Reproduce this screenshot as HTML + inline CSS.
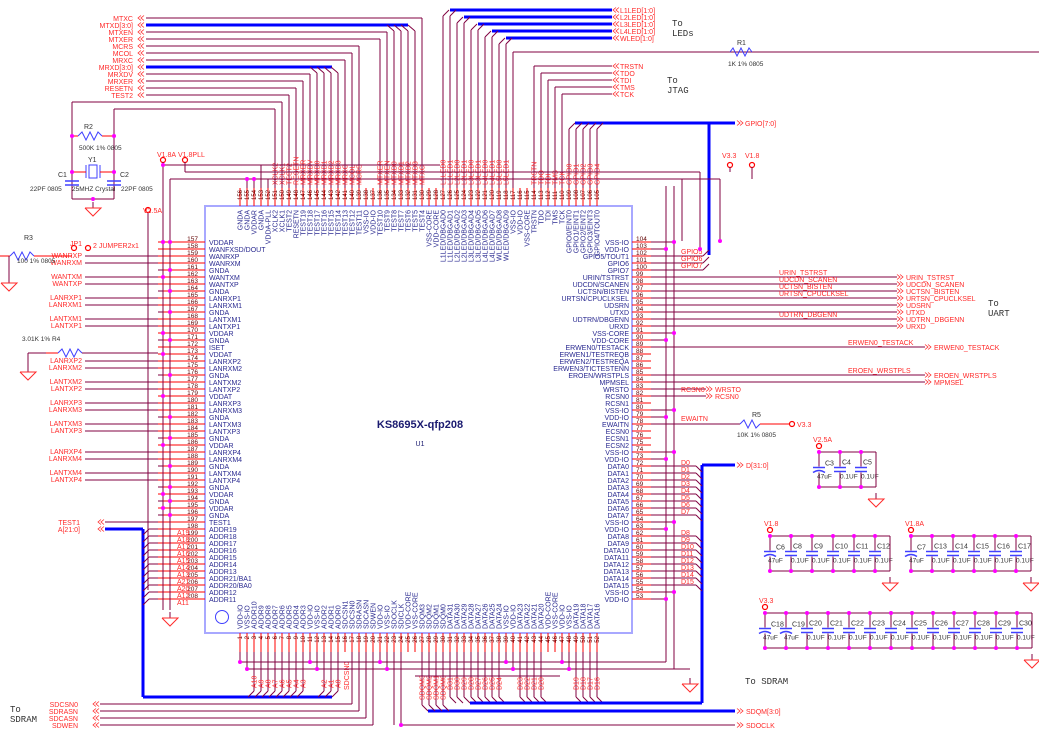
<!DOCTYPE html>
<html><head><meta charset="utf-8"><style>
html,body{margin:0;padding:0;background:#fff;width:1039px;height:741px;overflow:hidden}
svg{display:block;font-family:"Liberation Sans",sans-serif}
</style></head><body>
<svg id="s" width="1039" height="741" viewBox="0 0 1039 741" xmlns="http://www.w3.org/2000/svg"></svg>
<script>
(function(){
const S=[];const W='#800040',R='#ff0000',B='#0000ff',NL='#ff2a2a',PL='#2a2a90',PN='#600000';
function L(x1,y1,x2,y2,c=W,w=1){S.push(`<line x1="${x1}" y1="${y1}" x2="${x2}" y2="${y2}" stroke="${c}" stroke-width="${w}"/>`)}
function P(pts,c=W,w=1){S.push(`<polyline points="${pts}" fill="none" stroke="${c}" stroke-width="${w}"/>`)}
function T(x,y,t,c=PL,a='start',sz=7,rot=0,extra=''){S.push(`<text x="${x}" y="${y}" fill="${c}" font-size="${sz}" text-anchor="${a}"${rot?` transform="rotate(${rot} ${x} ${y})"`:''} ${extra}>${t}</text>`)}
function D(x,y){S.push(`<circle cx="${x}" cy="${y}" r="2" fill="#ff00ff"/>`)}
function O(x,y){S.push(`<circle cx="${x}" cy="${y}" r="2.5" fill="#fff" stroke="${R}" stroke-width="1.2"/>`)}
function chL(x,y){P(`${x+4},${y-2.5} ${x+1},${y} ${x+4},${y+2.5}`,NL,0.8);P(`${x+7},${y-2.5} ${x+4},${y} ${x+7},${y+2.5}`,NL,0.8)}
function chR(x,y){P(`${x},${y-2.5} ${x+3},${y} ${x},${y+2.5}`,NL,0.8);P(`${x+3},${y-2.5} ${x+6},${y} ${x+3},${y+2.5}`,NL,0.8)}
function gnd(x,y){L(x,y-6,x,y,W);P(`${x-8},${y} ${x+8},${y} ${x},${y+8} ${x-8},${y}`,NL)}
S.push(`<rect x="205" y="206" width="427" height="427" fill="none" stroke="#a8a8ff" stroke-width="2"/>`);
S.push(`<circle cx="222" cy="617" r="6.5" fill="none" stroke="#4040ff" stroke-width="1"/>`);
T(420,428,'KS8695X-qfp208','#1a1a70','middle',11,0,'font-weight="bold"');T(420,446,'U1','#1a1a70','middle',7);
const leftN=['VDDAR','WANFXSD/DOUT','WANRXP','WANRXM','GNDA','WANTXM','WANTXP','GNDA','LANRXP1','LANRXM1','GNDA','LANTXM1','LANTXP1','VDDAR','GNDA','ISET','VDDAT','LANRXP2','LANRXM2','GNDA','LANTXM2','LANTXP2','VDDAT','LANRXP3','LANRXM3','GNDA','LANTXM3','LANTXP3','GNDA','VDDAR','LANRXP4','LANRXM4','GNDA','LANTXM4','LANTXP4','GNDA','VDDAR','GNDA','VDDAR','GNDA','TEST1','ADDR19','ADDR18','ADDR17','ADDR16','ADDR15','ADDR14','ADDR13','ADDR21/BA1','ADDR20/BA0','ADDR12','ADDR11'];
const rightN=['VSS-IO','VDD-IO','GPIO5/TOUT1','GPIO6','GPIO7','URIN/TSTRST','UDCDN/SCANEN','UCTSN/BISTEN','URTSN/CPUCLKSEL','UDSRN','UTXD','UDTRN/DBGENN','URXD','VSS-CORE','VDD-CORE','ERWEN0/TESTACK','ERWEN1/TESTREQB','ERWEN2/TESTREQA','ERWEN3/TICTESTENN','EROEN/WRSTPLS','MPMSEL','WRSTO','RCSN0','RCSN1','VSS-IO','VDD-IO','EWAITN','ECSN0','ECSN1','ECSN2','VSS-IO','VDD-IO','DATA0','DATA1','DATA2','DATA3','DATA4','DATA5','DATA6','DATA7','VSS-IO','VDD-IO','DATA8','DATA9','DATA10','DATA11','DATA12','DATA13','DATA14','DATA15','VSS-IO','VDD-IO'];
const topN=['GNDA','GNDA','VDDAR','GNDA','VDDA-PLL','XCLK2','XCLK1','TEST2','RESETN','TEST19','TEST18','TEST17','TEST16','TEST15','TEST14','TEST13','TEST12','TEST11','VSS-IO','VDD-IO','TEST10','TEST9','TEST8','TEST7','TEST6','TEST5','TEST4','VSS-CORE','VDD-CORE','L1LED/DBGAD0','L1LED/DBGAD1','L2LED/DBGAD2','L2LED/DBGAD3','L3LED/DBGAD4','L3LED/DBGAD5','L4LED/DBGAD6','L4LED/DBGAD7','WLED/DBGAD8','WLED/DBGAD9','VSS-IO','VDD-IO','VSS-CORE','TRSTN','TDO','TDI','TMS','TCK','GPIO0/EINT0','GPIO1/EINT1','GPIO2/EINT2','GPIO3/EINT3','GPIO4/TOUT0'];
const botN=['VDD-IO','VSS-IO','ADDR10','ADDR9','ADDR8','ADDR7','ADDR6','ADDR5','ADDR4','ADDR3','VDD-IO','VSS-IO','ADDR2','ADDR1','ADDR0','SDCSN1','SDCSN0','SDRASN','SDCASN','SDWEN','VDD-IO','VSS-IO','SDOCLK','SDICLK','VDD-CORE','VSS-CORE','SDQM3','SDQM2','SDQM1','SDQM0','DATA31','DATA30','DATA29','DATA28','DATA27','DATA26','DATA25','DATA24','VSS-IO','VDD-IO','DATA23','DATA22','DATA21','DATA20','VDD-CORE','VSS-CORE','VDD-IO','VSS-IO','DATA19','DATA18','DATA17','DATA16'];
const ly=i=>242+7*i, tx=i=>240+7*i;
leftN.forEach((n,i)=>{const y=ly(i);L(158,y,205,y,R);T(198,y-1,157+i,PN,'end',6.5);T(209,y+3,n)});
rightN.forEach((n,i)=>{const y=ly(i);L(632,y,651,y,R);T(636,y-1,104-i,PN,'start',6.5);T(629,y+3,n,PL,'end')});
topN.forEach((n,i)=>{const x=tx(i);L(x,188,x,206,R);T(x+2,200,156-i,PN,'start',6,-90);T(x+2.5,210,n,PL,'end',7,-90)});
botN.forEach((n,i)=>{const x=tx(i);L(x,633,x,652,R);T(x+2,636,i+1,PN,'end',6,-90);T(x+2.5,629,n,PL,'start',7,-90)});
const ln=[['MTXC',18,422],['MTXD[3:0]',25,0],['MTXEN',32,387],['MTXER',39,380],['MCRS',46,359],['MCOL',53,352],['MRXC',60,345],['MRXD[3:0]',67,0],['MRXDV',74,310],['MRXER',81,303],['RESETN',88,296],['TEST2',95,289]];
ln.forEach(([n,y,x])=>{T(133,y+3,n,NL,'end');chL(137,y);if(x){L(146,y,x,y);L(x,y,x,188)}});
L(146,25,408,25,B,3);[394,401,408,415].forEach((x)=>{L(x-7,25,x,31);L(x,31,x,188)});
L(146,67,332,67,B,3);[317,324,331,338].forEach((x)=>{L(x-7,67,x,73);L(x,73,x,188)});
[['MTXC',422],['MTXD3',415],['MTXD2',408],['MTXD1',401],['MTXD0',394],['MTXEN',387],['MTXER',380],['MCRS',359],['MCOL',352],['MRXC',345],['MRXD3',338],['MRXD2',331],['MRXD1',324],['MRXD0',317],['MRXDV',310],['MRXER',303],['RESETN',296],['TEST2',289],['XCLK1',282],['XCLK2',275]].forEach(([n,x])=>T(x+2.5,185,n,NL,'start',7,-90));
const led=[['L1LED[1:0]',10,450],['L2LED[1:0]',17,464],['L3LED[1:0]',24,478],['L4LED[1:0]',31,492],['WLED[1:0]',38,506]];
led.forEach(([n,y,x0],k)=>{L(x0,y,612,y,B,3);chL(612,y);T(620,y+3,n,NL);const xa=tx(29+2*k),xb=tx(30+2*k);[xa,xb].forEach((x)=>{L(x,y+6,x+6,y);L(x,y+6,x,188);});T(xa+2.5,185,'L'+(k+1)+'LED0',NL,'start',7,-90);T(xb+2.5,185,'L'+(k+1)+'LED1',NL,'start',7,-90)});
T(672,26,'To','#333','start',9,0,'font-family="Liberation Mono"');T(672,36,'LEDs','#333','start',9,0,'font-family="Liberation Mono"');
L(513,52,1039,52);L(513,52,513,188);
P('730,52 733,48 737,56 741,48 745,56 749,48 752,52','#4040ff');T(737,45,'R1','#333','start',7);T(728,66,'1K 1% 0805','#333','start',6.5);
[['TRSTN',66],['TDO',73],['TDI',80],['TMS',87],['TCK',94]].forEach(([n,y],k)=>{const x=tx(42+k);L(x,y,612,y);L(x,y,x,188);chL(612,y);T(620,y+3,n,NL);T(x+2.5,185,n,NL,'start',7,-90)});
T(667,83,'To','#333','start',9,0,'font-family="Liberation Mono"');T(667,93,'JTAG','#333','start',9,0,'font-family="Liberation Mono"');
L(575,123,735,123,B,3);chR(737,123);T(745,126,'GPIO[7:0]',NL);
for(let k=0;k<5;k++){const x=tx(47+k);L(x,129,x+6,123);L(x,129,x,188);T(x+2.5,185,'GPIO'+k,NL,'start',7,-90)}
L(709,123,709,255,B,3);[[256,'GPIO5'],[263,'GPIO6'],[270,'GPIO7']].forEach(([y,n])=>{L(651,y,703,y);L(703,y,709,y-6);T(681,y-2,n,NL)});
L(163,165,440,165);L(185,172,700,172);L(170,179,720,179);
O(163,160);T(157,157,'V1.8A',NL);O(185,160);T(178,157,'V1.8PLL',NL);L(185,162,185,172);L(163,162,163,610);D(163,165);
L(275,172,275,188);L(268,179,268,188);L(254,179,254,188);L(247,179,247,188);L(261,165,261,188);D(254,179);D(247,179);
L(170,179,170,600);D(170,242);D(163,277);
O(148,210);T(143,213,'V2.5A',NL);L(148,213,148,590);
L(700,172,700,250);L(720,179,720,241);D(700,249);D(720,241);
O(730,165);T(722,158,'V3.3',NL);L(730,167,730,172);O(752,165);T(745,158,'V1.8',NL);L(752,167,752,179);
const lnets=[[2,'WANRXP'],[3,'WANRXM'],[5,'WANTXM'],[6,'WANTXP'],[8,'LANRXP1'],[9,'LANRXM1'],[11,'LANTXM1'],[12,'LANTXP1'],[17,'LANRXP2'],[18,'LANRXM2'],[20,'LANTXM2'],[21,'LANTXP2'],[23,'LANRXP3'],[24,'LANRXM3'],[26,'LANTXM3'],[27,'LANTXP3'],[30,'LANRXP4'],[31,'LANRXM4'],[33,'LANTXM4'],[34,'LANTXP4']];
lnets.forEach(([i,n])=>{const y=ly(i);L(85,y,158,y);T(82,y+2,n,NL,'end')});
[4,7,10,14,19,25,28,32,35,37,39].forEach(i=>{L(163,ly(i),158,ly(i));D(170,ly(i))});
[0,13,16,22,29,36,38].forEach(i=>D(163,ly(i)));
L(0,256,10,256,R);P('10,256 14,252 18,260 22,252 26,260 30,252 34,256','#4040ff');L(34,256,72,256,R);O(74,248);O(88,248);T(70,246,'JP1',NL);T(93,248,'2  JUMPER2x1',NL);T(24,240,'R3','#333');T(17,263,'100 1% 0805','#333','start',6.5);gnd(9,283);L(9,256,9,277);
L(46,353,58,353,R);P('58,353 62,349 66,357 70,349 74,357 78,349 82,353','#4040ff');L(82,353,158,353);T(22,341,'3.01K  1%    R4','#333','start',6.5);gnd(28,372);L(28,353,28,366);L(28,353,46,353);
L(72,102,282,102);L(282,102,282,188);L(114,109,275,109);L(275,109,275,188);
L(72,102,72,199);L(114,109,114,199);L(72,199,114,199);
L(72,136,78,136,R);P('78,136 82,132 86,140 90,132 94,140 98,132 102,136','#4040ff');L(102,136,114,136,R);D(72,136);D(114,136);
T(84,129,'R2','#333');T(79,150,'500K 1% 0805','#333','start',6.5);
S.push('<rect x="89" y="165" width="8" height="13" fill="none" stroke="#4040ff"/>');L(86,165,86,178,'#4040ff');L(100,165,100,178,'#4040ff');L(72,172,86,172,R);L(100,172,114,172,R);D(72,172);D(114,172);T(88,162,'Y1','#333');
L(65,181,79,181,'#4040ff',1.5);L(65,185,79,185,'#4040ff',1.5);L(107,181,121,181,'#4040ff',1.5);L(107,185,121,185,'#4040ff',1.5);
T(58,177,'C1','#333');T(120,177,'C2','#333');T(30,191,'22PF 0805','#333','start',6.5);T(72,191,'25MHZ Crystal','#333','start',6.5);T(121,191,'22PF 0805','#333','start',6.5);
D(93,199);gnd(93,208);
const ur=[[5,'URIN_TSTRST'],[6,'UDCDN_SCANEN'],[7,'UCTSN_BISTEN'],[8,'URTSN_CPUCLKSEL'],[9,'UDSRN'],[10,'UTXD'],[11,'UDTRN_DBGENN'],[12,'URXD']];
ur.forEach(([i,n])=>{const y=ly(i);L(651,y,897,y);chR(897,y);T(906,y+3,n,NL);if(!['UDSRN','UTXD','URXD'].includes(n))T(779,y-2,n,NL)});
T(988,306,'To','#333','start',9,0,'font-family="Liberation Mono"');T(988,316,'UART','#333','start',9,0,'font-family="Liberation Mono"');
[[15,'ERWEN0_TESTACK'],[19,'EROEN_WRSTPLS'],[20,'MPMSEL']].forEach(([i,n])=>{const y=ly(i);L(651,y,925,y);chR(925,y);T(934,y+3,n,NL);if(i<20)T(848,y-2,n,NL)});
[[21,'WRSTO'],[22,'RCSN0']].forEach(([i,n])=>{const y=ly(i);L(651,y,706,y);chR(706,y);T(715,y+3,n,NL)});T(681,392,'RCSN0',NL);
const ew=ly(26);
L(651,ew,740,ew);T(681,ew-3,'EWAITN',NL);P(`740,${ew} 744,${ew-4} 748,${ew+4} 752,${ew-4} 756,${ew+4} 760,${ew}`,'#4040ff');L(760,ew,790,ew,R);O(792,ew);T(797,ew+3,'V3.3',NL);T(752,ew-7,'R5','#333');T(737,ew+13,'10K 1% 0805','#333','start',6.5);
L(666,186,666,662);L(674,186,674,669);L(682,179,682,241);
[0,13,24,30,40,50].forEach(i=>{L(651,ly(i),674,ly(i));D(674,ly(i))});[1,14,25,31,41,51].forEach(i=>{L(651,ly(i),666,ly(i));D(666,ly(i))});
L(702,465,702,703,B,3);L(702,465,735,465,B,3);chR(737,465);T(746,468,'D[31:0]',NL);
for(let k=0;k<16;k++){const i=k<8?32+k:34+k;const y=ly(i);L(651,y,696,y);L(696,y,702,y+6);T(681,y-1,'D'+k,NL)}
L(105,529,143,529,B,3);L(143,529,143,697,B,3);L(143,697,332,697,B,3);chL(97,529);chL(97,522);T(80,525,'TEST1',NL,'end');T(80,532,'A[21:0]',NL,'end');L(105,522,158,522);
for(let i=41;i<52;i++){const y=ly(i);L(143,y+6,149,y);L(149,y,158,y)}
const an=['A19','A18','A17','A16','A15','A14','A13','A21','A20','A12','A11'];an.forEach((n,k)=>T(177,ly(42+k)-1,n,NL));
L(170,600,170,610);gnd(170,618);
[3,4,5,6,7,8,9,10,13,14,15].forEach((p,k)=>{const x=tx(p-1);L(x,652,x,691);L(x,691,x-6,697);T(x+2.5,688,['A10','A9','A8','A7','A6','A5','A4','A3','A2','A1','A0'][k],NL,'start',7,-90)});
T(349,690,'SDCSN0',NL,'start',7,-90);
[['SDCSN0',704,17],['SDRASN',711,18],['SDCASN',718,19],['SDWEN',725,20]].forEach(([n,y,p])=>{const x=tx(p-1);L(100,y,x,y);L(x,y,x,652);chL(92,y);T(78,y+3,n,NL,'end')});
T(10,712,'To','#333','start',9,0,'font-family="Liberation Mono"');T(10,722,'SDRAM','#333','start',9,0,'font-family="Liberation Mono"');
L(428,711,735,711,B,3);chR(737,711);T(746,714,'SDQM[3:0]',NL);
for(let k=0;k<4;k++){const x=tx(26+k);L(x,652,x,705);L(x,705,x+6,711);T(x+2.5,700,'SDQM'+(3-k),NL,'start',7,-90)}
L(401,652,401,725);L(401,725,735,725);D(401,725);chR(737,725);T(746,728,'SDOCLK',NL);L(394,652,394,725);
[30,31,32,33,34,35,36,37,40,41,42,43,48,49,50,51].forEach((p,k)=>{const x=tx(p);L(x,652,x,697);L(x,697,x+6,703);T(x+2.5,690,'D'+(31-k),NL,'start',7,-90)});
L(470,703,702,703,B,3);
L(240,662,666,662);L(247,669,674,669);L(415,676,560,676);
[0,10,20,38,46].forEach(i=>{L(tx(i),652,tx(i),662);D(tx(i),662)});[1,11,21,39,47].forEach(i=>{L(tx(i),652,tx(i),669);D(tx(i),669)});
L(674,669,690,669);gnd(690,684);
T(745,684,'To  SDRAM','#333','start',9,0,'font-family="Liberation Mono"');
function bank(x0,ytop,ybot,label,caps,elec){O(x0,ytop-6);T(x0-6,ytop-10,label,NL);const xe=x0+(caps.length)*21-6;L(x0,ytop,xe,ytop);L(x0,ybot,xe,ybot);
caps.forEach((c,k)=>{const x=x0+k*21;const ym=(ytop+ybot)/2;L(x,ytop,x,ym-3);L(x,ym+3,x,ybot);D(x,ytop);D(x,ybot);
if(k<elec){L(x-6,ym-2,x+6,ym-2,'#4040ff',1.5);S.push(`<path d="M${x-6} ${ym+3} Q${x} ${ym-1} ${x+6} ${ym+3}" fill="none" stroke="#4040ff" stroke-width="1.5"/>`);T(x+6,ym-4,c,'#333');T(x-2,ym+9,'47uF','#333','start',6.5)}
else{L(x-6,ym-2,x+6,ym-2,'#4040ff',1.5);L(x-6,ym+2,x+6,ym+2,'#4040ff',1.5);T(x+2,ym-5,c,'#333');T(x,ym+9,'0.1UF','#333','start',6.5)}});
L(xe,ytop,xe,ybot);gnd(xe,ybot+12);}
bank(819,452,487,'V2.5A',['C3','C4','C5'],1);
bank(770,536,571,'V1.8',['C6','C8','C9','C10','C11','C12'],1);
bank(911,536,571,'V1.8A',['C7','C13','C14','C15','C16','C17'],1);
bank(765,613,648,'V3.3',['C18','C19','C20','C21','C22','C23','C24','C25','C26','C27','C28','C29','C30'],2);
document.getElementById('s').innerHTML=S.join('');
})();
</script>
</body></html>
